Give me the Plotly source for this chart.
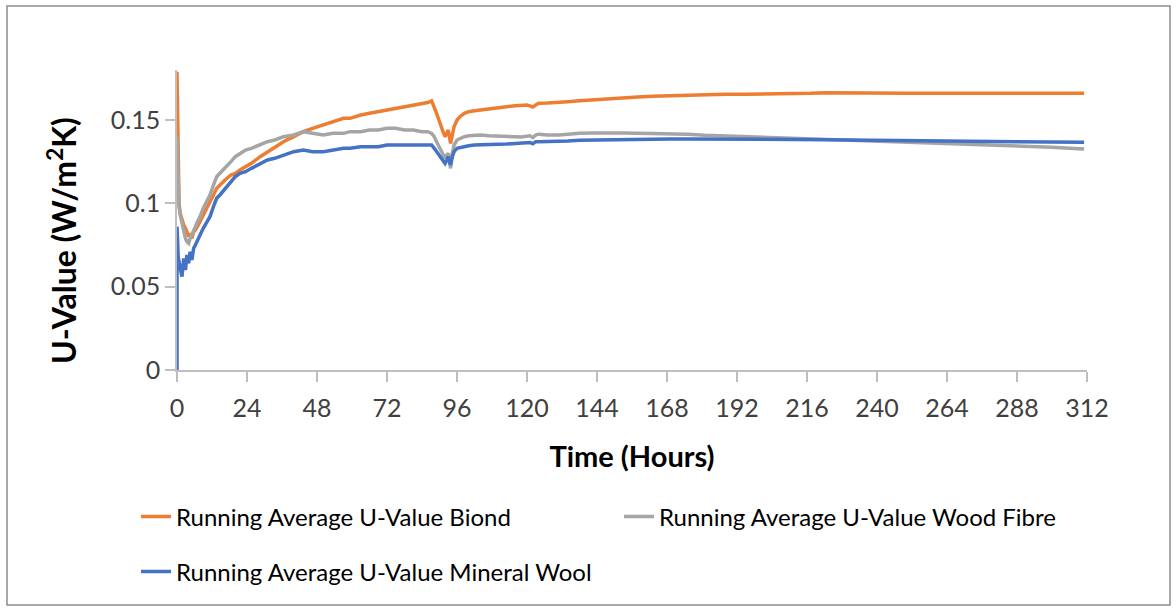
import plotly.graph_objects as go

# ---- data (hours, U-values) ----
hours = [0, 0, 0.2, 0.4, 0.7, 1.1, 1.7, 2.3, 2.9, 3.4,
         4.0, 4.5, 5.1, 5.7, 6.3, 7.0, 7.9, 9.0, 10.2, 11.3,
         12.5, 13.6, 14.7, 16.5, 18.5, 20.0, 21.6, 23.5, 25.5, 28.5,
         31.0, 33.5, 36.5, 40.0, 43.3, 46.5, 50.2, 53.5, 57.1, 59.3,
         63.0, 66.0, 69.0, 72.0, 75.0, 78.0, 81.0, 84.0, 86.0, 87.3,
         88.2, 89.0, 89.8, 90.5, 91.2, 91.9, 92.5, 93.0, 93.4, 93.8,
         94.4, 95.0, 96.0, 97.0, 98.5, 100, 102, 104, 107, 110,
         113, 116, 118, 120, 121, 122, 123, 124, 127, 131,
         134, 138, 143, 148, 153, 158, 163, 169, 175, 181,
         188, 195, 203, 211, 217, 223, 230, 240, 250, 260,
         270, 280, 290, 300, 306, 311]

biond = [0.179, 0.179, 0.150, 0.120, 0.100, 0.094, 0.090, 0.087, 0.085, 0.083,
         0.080, 0.082, 0.079, 0.083, 0.084, 0.086, 0.089, 0.093, 0.097, 0.100,
         0.105, 0.109, 0.111, 0.114, 0.117, 0.118, 0.120, 0.122, 0.124, 0.128,
         0.131, 0.134, 0.137, 0.140, 0.143, 0.145, 0.147, 0.149, 0.151, 0.151,
         0.153, 0.154, 0.155, 0.156, 0.157, 0.158, 0.159, 0.160, 0.1605, 0.1615,
         0.158, 0.154, 0.150, 0.146, 0.143, 0.140, 0.142, 0.144, 0.140, 0.136,
         0.141, 0.146, 0.150, 0.152, 0.154, 0.155, 0.1555, 0.156, 0.157, 0.1575,
         0.158, 0.1585, 0.1588, 0.159, 0.1585, 0.1578, 0.159, 0.160, 0.1602, 0.1604,
         0.161, 0.1616, 0.1622, 0.163, 0.1633, 0.1638, 0.1642, 0.1646, 0.1649, 0.1651,
         0.1654, 0.1655, 0.1656, 0.1656, 0.166, 0.1664, 0.1662, 0.166, 0.1661, 0.166,
         0.166, 0.1662, 0.1661, 0.166, 0.1661, 0.166]

wood_fibre = [0.140, 0.140, 0.125, 0.108, 0.098, 0.093, 0.088, 0.083, 0.079, 0.077,
              0.076, 0.079, 0.081, 0.084, 0.086, 0.089, 0.092, 0.097, 0.101, 0.105,
              0.111, 0.116, 0.118, 0.121, 0.125, 0.128, 0.130, 0.132, 0.133, 0.135,
              0.137, 0.138, 0.140, 0.141, 0.143, 0.142, 0.141, 0.142, 0.142, 0.143,
              0.143, 0.144, 0.144, 0.145, 0.145, 0.144, 0.144, 0.143, 0.143, 0.142,
              0.140, 0.137, 0.134, 0.131, 0.129, 0.127, 0.129, 0.130, 0.125, 0.121,
              0.130, 0.135, 0.138, 0.139, 0.140, 0.1405, 0.141, 0.141, 0.1405, 0.1405,
              0.140, 0.140, 0.1398, 0.140, 0.1405, 0.1395, 0.141, 0.1415, 0.141, 0.141,
              0.1415, 0.142, 0.1422, 0.1424, 0.1422, 0.1421, 0.142, 0.142, 0.1414, 0.1408,
              0.1404, 0.1398, 0.1392, 0.1386, 0.1383, 0.138, 0.1377, 0.1372, 0.1367, 0.1363,
              0.1357, 0.1351, 0.1345, 0.1337, 0.1331, 0.1326]

mineral_wool = [0.000, 0.086, 0.078, 0.068, 0.063, 0.061, 0.056, 0.067, 0.060, 0.069,
                0.064, 0.071, 0.066, 0.073, 0.075, 0.078, 0.081, 0.085, 0.089, 0.092,
                0.098, 0.103, 0.105, 0.109, 0.113, 0.116, 0.118, 0.119, 0.121, 0.124,
                0.126, 0.127, 0.129, 0.131, 0.132, 0.131, 0.131, 0.132, 0.133, 0.133,
                0.134, 0.134, 0.134, 0.135, 0.135, 0.135, 0.135, 0.135, 0.135, 0.135,
                0.133, 0.131, 0.129, 0.127, 0.125, 0.124, 0.126, 0.128, 0.125, 0.123,
                0.128, 0.131, 0.133, 0.1335, 0.134, 0.1345, 0.135, 0.135, 0.1352, 0.1355,
                0.1356, 0.1358, 0.136, 0.136, 0.1365, 0.1358, 0.137, 0.137, 0.137, 0.137,
                0.1374, 0.1378, 0.138, 0.138, 0.1382, 0.1384, 0.1385, 0.1386, 0.1386, 0.1386,
                0.1386, 0.1385, 0.1384, 0.1384, 0.1383, 0.1382, 0.138, 0.1378, 0.1376, 0.1375,
                0.1373, 0.1371, 0.137, 0.1368, 0.1367, 0.1366]

series_names = ["Running Average U-Value Biond",
                "Running Average U-Value Wood Fibre",
                "Running Average U-Value Mineral Wool"]
x_ticks = list(range(0, 313, 24))
y_ticks = [0, 0.05, 0.1, 0.15]
y_ticktext = ["0", "0.05", "0.1", "0.15"]

FONT = "Lato"
W, H = 1176, 609
L, R, T, B = 177, 89, 70, 239
pw, ph = W - L - R, H - T - B


def px_x(p):
    return (p - L) / pw


def px_y(p):
    return (H - B - p) / ph


fig = go.Figure()
fig.add_trace(go.Scatter(x=hours, y=biond, mode="lines", name=series_names[0],
                         line=dict(color="#ED7D31", width=3.5), legend="legend"))
fig.add_trace(go.Scatter(x=hours, y=wood_fibre, mode="lines", name=series_names[1],
                         line=dict(color="#A5A5A5", width=3.5), legend="legend"))
fig.add_trace(go.Scatter(x=hours, y=mineral_wool, mode="lines", name=series_names[2],
                         line=dict(color="#4472C4", width=3.5), legend="legend2"))

axis_common = dict(showgrid=False, zeroline=False, showline=True, linecolor="#BFBFBF",
                   linewidth=1.5, ticks="outside", ticklen=10, tickcolor="#BFBFBF",
                   tickwidth=1.5, layer="below traces",
                   tickfont=dict(family=FONT, size=25, color="#404040"))

fig.update_layout(
    width=W, height=H, autosize=False,
    margin=dict(l=L, r=R, t=T, b=B),
    paper_bgcolor="white", plot_bgcolor="white",
    font=dict(family=FONT, color="#000000"),
    xaxis=dict(range=[0, 312], tickvals=x_ticks, ticklabelstandoff=5,
               title=dict(text="<b>Time (Hours)</b>", standoff=26,
                          font=dict(family=FONT, size=29, color="#000000")),
               **axis_common),
    yaxis=dict(range=[0, 0.18], tickvals=y_ticks, ticktext=y_ticktext, **axis_common),
    legend=dict(orientation="h", x=px_x(136), y=px_y(517), xanchor="left", yanchor="middle",
                entrywidth=438, entrywidthmode="pixels", bgcolor="rgba(0,0,0,0)",
                font=dict(family=FONT, size=24, color="#000000"), itemwidth=30),
    legend2=dict(orientation="h", x=px_x(136), y=px_y(572), xanchor="left", yanchor="middle",
                 bgcolor="rgba(0,0,0,0)",
                 font=dict(family=FONT, size=24, color="#000000"), itemwidth=30),
    annotations=[dict(text="<b>U-Value (W/m<sup>2</sup>K)</b>", textangle=-90,
                      x=px_x(62), y=px_y(241), xref="paper", yref="paper",
                      showarrow=False, xanchor="center", yanchor="middle",
                      font=dict(family=FONT, size=32, color="#000000"))],
    shapes=[dict(type="rect", xref="paper", yref="paper",
                 x0=px_x(7), x1=px_x(1170), y0=px_y(605), y1=px_y(6),
                 line=dict(color="#8C8C8C", width=1.5), fillcolor="rgba(0,0,0,0)",
                 layer="below")],
    showlegend=True,
)

fig.write_html("out.html")
